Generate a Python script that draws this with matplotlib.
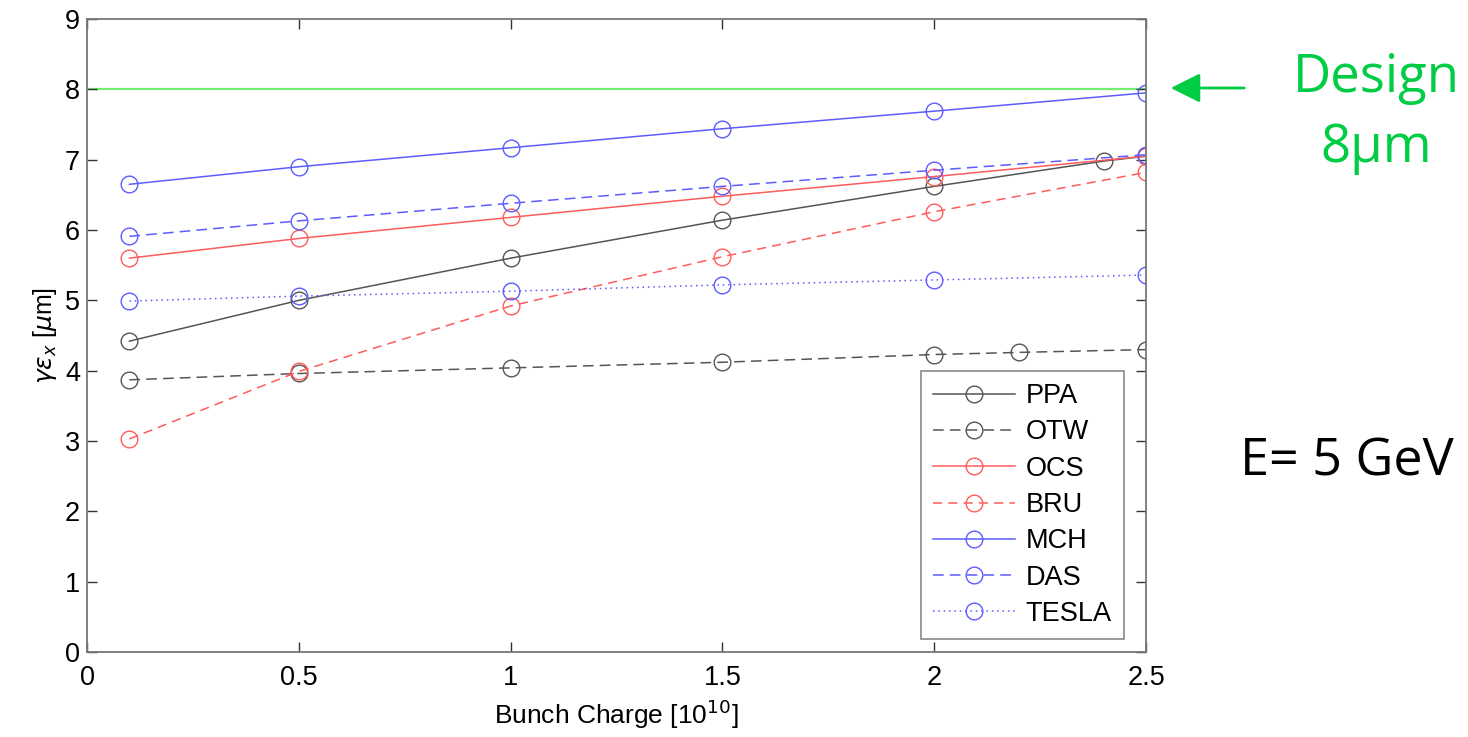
import matplotlib
matplotlib.use("Agg")
import matplotlib.pyplot as plt

plt.rcParams['font.family'] = ['Liberation Sans', 'DejaVu Sans']

# Bunch charge [1e10] and normalized horizontal emittance [um] for each lattice
q_main = [0.1, 0.5, 1.0, 1.5, 2.0, 2.5]
ppa_q = [0.1, 0.5, 1.0, 1.5, 2.0, 2.4, 2.5]
ppa = [4.42, 5.00, 5.60, 6.14, 6.62, 6.98, 7.05]
otw_q = [0.1, 0.5, 1.0, 1.5, 2.0, 2.2, 2.5]
otw = [3.87, 3.96, 4.04, 4.12, 4.23, 4.26, 4.30]
ocs = [5.60, 5.88, 6.18, 6.48, 6.76, 7.05]
bru = [3.03, 3.99, 4.92, 5.62, 6.26, 6.82]
mch = [6.65, 6.90, 7.17, 7.44, 7.69, 7.95]
das = [5.91, 6.13, 6.38, 6.62, 6.85, 7.07]
tesla = [4.99, 5.06, 5.13, 5.22, 5.29, 5.36]
design = 8.0

x_ticks = [0, 0.5, 1, 1.5, 2, 2.5]
x_tick_labels = ['0', '0.5', '1', '1.5', '2', '2.5']
y_ticks = list(range(0, 10))

BLACK = '#555555'
RED = '#ff5c5c'
BLUE = '#5c5cff'
GREEN = '#72ee72'

fig = plt.figure(figsize=(14.68, 7.37), dpi=100)
ax = fig.add_axes([0.0593, 0.1153, 0.7214, 0.8589])

ax.axhline(design, color=GREEN, lw=1.6, zorder=1)

ms = 12
mkw = dict(marker='o', markersize=ms, markerfacecolor='none', markeredgewidth=1.0)
series = [
    ('PPA', ppa_q, ppa, BLACK, '-'),
    ('OTW', otw_q, otw, BLACK, (0, (7, 4))),
    ('OCS', q_main, ocs, RED, '-'),
    ('BRU', q_main, bru, RED, (0, (6, 4))),
    ('MCH', q_main, mch, BLUE, '-'),
    ('DAS', q_main, das, BLUE, (0, (7, 4))),
    ('TESLA', q_main, tesla, BLUE, (0, (1, 2.5))),
]
handles = []
for name, xs, ys, col, ls in series:
    ln, = ax.plot(xs, ys, color=col, ls=ls, lw=1.1, markeredgecolor=col,
                  label=name, **mkw)
    handles.append(ln)

ax.set_xlim(0, 2.5)
ax.set_ylim(0, 9)
ax.set_xticks(x_ticks)
ax.set_xticklabels(x_tick_labels)
ax.set_yticks(y_ticks)
ax.tick_params(direction='in', length=7, width=1, top=True, right=True,
               labelsize=19.5, colors='#333333', labelcolor='black')
ax.tick_params(axis='x', pad=9)
ax.tick_params(axis='y', pad=5)
for sp in ax.spines.values():
    sp.set_color('#777777')
    sp.set_linewidth(1.3)

ax.set_xlabel('Bunch Charge [10$^{10}$]', fontsize=19, labelpad=5)
ax.set_ylabel(r'$\gamma\varepsilon_x$ [$\mu$m]', fontsize=18, labelpad=4)

leg = ax.legend(handles=handles, loc='lower right',
                bbox_to_anchor=(0.979, 0.0205), fontsize=19.5, frameon=True,
                fancybox=False, edgecolor='#777777', handlelength=3.0,
                labelspacing=0.38, borderpad=0.45, handletextpad=0.4,
                borderaxespad=0)
leg.get_frame().set_linewidth(1.3)

# annotations to the right of the plot
ann_font = ['Open Sans', 'DejaVu Sans']
fig.text(1376 / 1468, 1 - 78 / 737, 'Design', color='#00cc44', fontsize=38,
         ha='center', va='center', family=ann_font)
fig.text(1376 / 1468, 1 - 148 / 737, '8μm', color='#00cc44', fontsize=38,
         ha='center', va='center', family=ann_font)
fig.text(1347 / 1468, 1 - 462 / 737, 'E= 5 GeV', color='black', fontsize=37.5,
         ha='center', va='center', family=ann_font)
fig.patches.append(matplotlib.patches.FancyArrowPatch(
    (1247 / 1468, 1 - 88 / 737), (1168 / 1468, 1 - 88 / 737),
    transform=fig.transFigure, arrowstyle='-|>,head_length=12,head_width=6',
    color='#00cc44', lw=2, mutation_scale=1.5))

fig.savefig('out.png', dpi=100)
